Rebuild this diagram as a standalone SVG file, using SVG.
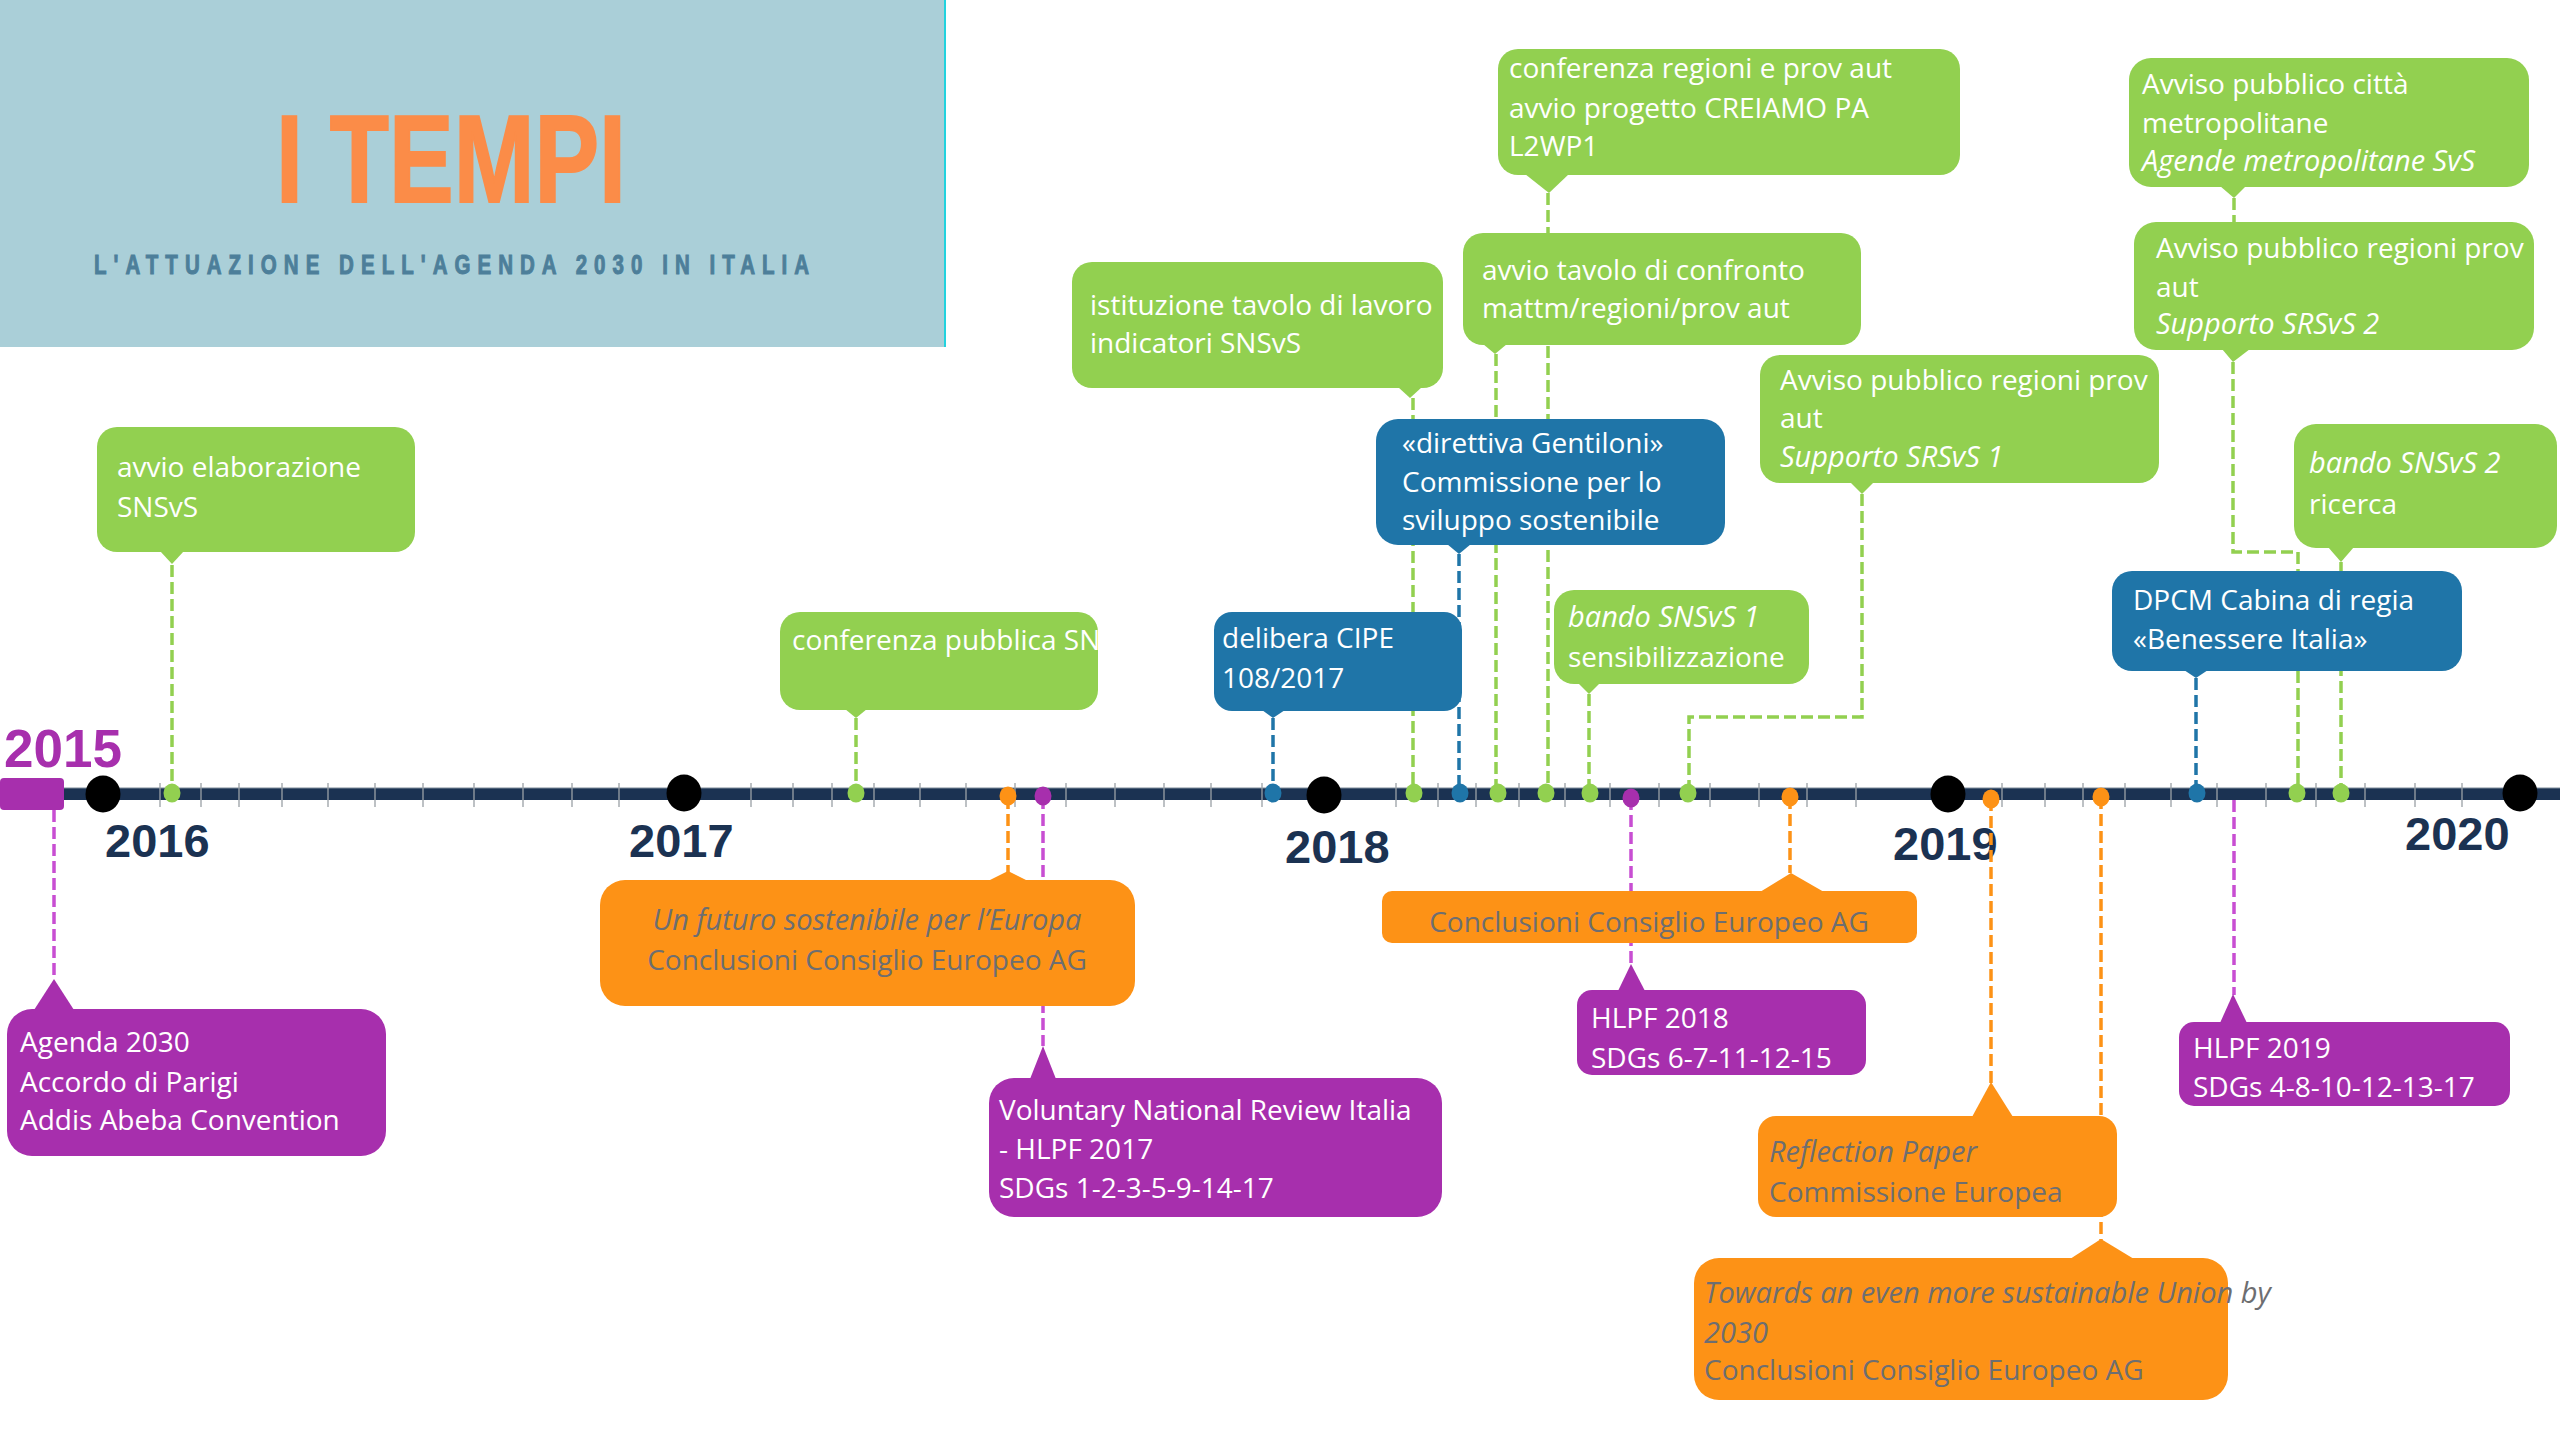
<svg xmlns="http://www.w3.org/2000/svg" width="2560" height="1440" viewBox="0 0 2560 1440">
<defs>
<style>
.t{font-family:"Open Sans","Noto Sans","DejaVu Sans",sans-serif;font-size:28px;fill:#ffffff}
.gr{fill:#6d6e71}
.it{font-style:italic;font-size:29px}
.mid{text-anchor:middle}
.yr{font-family:"Liberation Sans",Arial,sans-serif;font-weight:bold;font-size:47px;fill:#1b3252}
.c{fill:none;stroke-width:3.5;stroke-dasharray:12 5}
.cg{stroke:#92d050}.cb{stroke:#1f75a8}.co{stroke:#fd9216}.cp{stroke:#c84ed2}
.fg{fill:#92d050}.fb{fill:#1f75a8}.fo{fill:#fd9216}.fp{fill:#a72fad}
.tk{stroke:#9aa0a6;stroke-width:1.3}
.yd{fill:#000000}
</style>
<clipPath id="clipB"><rect x="780" y="612" width="318" height="98" rx="20"/></clipPath>
</defs>
<rect width="2560" height="1440" fill="#ffffff"/>

<g id="title">
<rect x="0" y="0" width="945" height="347" fill="#aacfd8"/>
<line x1="945" y1="0" x2="945" y2="347" stroke="#22d2de" stroke-width="2"/>
<text x="276" y="202" font-family="'Liberation Sans',Arial,sans-serif" font-weight="bold" font-size="124" fill="#fb8c48" stroke="#fb8c48" stroke-width="2" textLength="350" lengthAdjust="spacingAndGlyphs">I TEMPI</text>
<text transform="translate(94,274) scale(0.76,1)" font-family="'Liberation Sans',Arial,sans-serif" font-weight="bold" font-size="27" fill="#4d7f9a" stroke="#4d7f9a" stroke-width="1" textLength="941" lengthAdjust="spacing">L'ATTUAZIONE DELL'AGENDA 2030 IN ITALIA</text>
</g>

<g id="axis">
<rect x="40" y="788" width="2520" height="12" fill="#1b3252"/>
<line x1="64" y1="788" x2="2560" y2="788" stroke="#7f8c99" stroke-width="1.2"/>
<g class="tk">
<path d="M160 783V807M201 783V807M239 783V807M282 783V807M328 783V807M375 783V807M423 783V807M474 783V807M523 783V807M572 783V807M619 783V807M751 783V807M793 783V807M832 783V807M874 783V807M920 783V807M966 783V807M1015 783V807M1066 783V807M1115 783V807M1164 783V807M1211 783V807M1262 783V807M1396 783V807M1438 783V807M1476 783V807M1519 783V807M1565 783V807M1610 783V807M1659 783V807M1710 783V807M1759 783V807M1807 783V807M1856 783V807M2002 783V807M2045 783V807M2083 783V807M2125 783V807M2171 783V807M2217 783V807M2266 783V807M2316 783V807M2365 783V807M2415 783V807M2462 783V807"/>
</g>
<rect x="0" y="778" width="64" height="32" rx="4" class="fp"/>
<ellipse cx="103" cy="794" rx="17.5" ry="18.5" class="yd"/>
<ellipse cx="684" cy="793" rx="17.5" ry="18.5" class="yd"/>
<ellipse cx="1324" cy="795" rx="17.5" ry="18.5" class="yd"/>
<ellipse cx="1948" cy="794" rx="17.5" ry="18.5" class="yd"/>
<ellipse cx="2520" cy="793" rx="17.5" ry="18.5" class="yd"/>
<text x="4" y="767" font-family="'Liberation Sans',Arial,sans-serif" font-weight="bold" font-size="53" fill="#a72fad">2015</text>
<text x="105" y="857" class="yr">2016</text>
<text x="629" y="857" class="yr">2017</text>
<text x="1285" y="863" class="yr">2018</text>
<text x="1893" y="860" class="yr">2019</text>
<text x="2405" y="850" class="yr">2020</text>
</g>

<g id="connectors">
<path class="c cg" d="M172 565V793"/>
<path class="c cg" d="M856 718V793"/>
<path class="c cg" d="M1413 398V793"/>
<path class="c cg" d="M1548 193V793"/>
<path class="c cg" d="M1496 354V793"/>
<path class="c cg" d="M1589 694V793"/>
<path class="c cg" d="M1862 494V717H1689V793"/>
<path class="c cg" d="M2234 198V222"/>
<path class="c cg" d="M2233 362V552H2298V793"/>
<path class="c cg" d="M2341 562V793"/>
<path class="c cb" d="M1273 718V793"/>
<path class="c cb" d="M1459 554V793"/>
<path class="c cb" d="M2196 678V793"/>
<path class="c co" d="M1008 797V872"/>
<path class="c co" d="M1790 797V873"/>
<path class="c co" d="M1991 799V1083"/>
<path class="c co" d="M2101 797V1240"/>
<path class="c cp" d="M54 810V980"/>
<path class="c cp" d="M1043 797V1046"/>
<path class="c cp" d="M1631 798V965"/>
<path class="c cp" d="M2234 800V995"/>
</g>

<g id="dots">
<ellipse cx="172" cy="793" rx="8.5" ry="9.5" class="fg"/>
<ellipse cx="856" cy="793" rx="8.5" ry="9.5" class="fg"/>
<ellipse cx="1414" cy="793" rx="8.5" ry="9.5" class="fg"/>
<ellipse cx="1498" cy="793" rx="8.5" ry="9.5" class="fg"/>
<ellipse cx="1546" cy="793" rx="8.5" ry="9.5" class="fg"/>
<ellipse cx="1590" cy="793" rx="8.5" ry="9.5" class="fg"/>
<ellipse cx="1688" cy="793" rx="8.5" ry="9.5" class="fg"/>
<ellipse cx="2297" cy="793" rx="8.5" ry="9.5" class="fg"/>
<ellipse cx="2341" cy="793" rx="8.5" ry="9.5" class="fg"/>
<ellipse cx="1273" cy="793" rx="8.5" ry="9.5" class="fb"/>
<ellipse cx="1460" cy="793" rx="8.5" ry="9.5" class="fb"/>
<ellipse cx="2197" cy="793" rx="8.5" ry="9.5" class="fb"/>
<ellipse cx="1008" cy="796" rx="8.5" ry="9.5" class="fo"/>
<ellipse cx="1790" cy="797" rx="8.5" ry="9.5" class="fo"/>
<ellipse cx="1991" cy="799" rx="8.5" ry="9.5" class="fo"/>
<ellipse cx="2101" cy="797" rx="8.5" ry="9.5" class="fo"/>
<ellipse cx="1043" cy="796" rx="8.5" ry="9.5" class="fp"/>
<ellipse cx="1631" cy="798" rx="8.5" ry="9.5" class="fp"/>
</g>

<g id="n-avvio-elaborazione">
<rect x="97" y="427" width="318" height="125" rx="20" class="fg"/>
<polygon points="160,551 184,551 172,564" class="fg"/>
<text class="t" x="117" y="477">avvio elaborazione</text>
<text class="t" x="117" y="517">SNSvS</text>
</g>

<g id="n-conferenza-pubblica">
<rect x="780" y="612" width="318" height="98" rx="20" class="fg"/>
<polygon points="845,709 867,709 856,718" class="fg"/>
<text class="t" x="792" y="650" clip-path="url(#clipB)">conferenza pubblica SNS</text>
</g>

<g id="n-futuro-sostenibile">
<rect x="600" y="880" width="535" height="126" rx="25" class="fo"/>
<polygon points="988,881 1028,881 1008,871" class="fo"/>
<text class="t gr it mid" x="867" y="930">Un futuro sostenibile per l’Europa</text>
<text class="t gr mid" x="867" y="970">Conclusioni Consiglio Europeo AG</text>
</g>

<g id="n-vnr">
<rect x="989" y="1078" width="453" height="139" rx="25" class="fp"/>
<polygon points="1030,1079 1056,1079 1043,1046" class="fp"/>
<text class="t" x="999" y="1120">Voluntary National Review Italia</text>
<text class="t" x="999" y="1159">- HLPF 2017</text>
<text class="t" x="999" y="1198">SDGs 1-2-3-5-9-14-17</text>
</g>

<g id="n-agenda2030">
<rect x="7" y="1009" width="379" height="147" rx="25" class="fp"/>
<polygon points="34,1010 74,1010 54,979" class="fp"/>
<text class="t" x="20" y="1052">Agenda 2030</text>
<text class="t" x="20" y="1092">Accordo di Parigi</text>
<text class="t" x="20" y="1130">Addis Abeba Convention</text>
</g>

<g id="n-delibera-cipe">
<rect x="1214" y="612" width="248" height="99" rx="18" class="fb"/>
<polygon points="1262,710 1285,710 1273,718" class="fb"/>
<text class="t" x="1222" y="648">delibera CIPE</text>
<text class="t" x="1222" y="688">108/2017</text>
</g>

<g id="n-istituzione-tavolo">
<rect x="1072" y="262" width="371" height="126" rx="20" class="fg"/>
<polygon points="1398,387 1422,387 1410,398" class="fg"/>
<text class="t" x="1090" y="315">istituzione tavolo di lavoro</text>
<text class="t" x="1090" y="353">indicatori SNSvS</text>
</g>

<g id="n-conferenza-regioni">
<rect x="1498" y="49" width="462" height="126" rx="20" class="fg"/>
<polygon points="1525,174 1569,174 1549,193" class="fg"/>
<text class="t" x="1509" y="78">conferenza regioni e prov aut</text>
<text class="t" x="1509" y="118">avvio progetto CREIAMO PA</text>
<text class="t" x="1509" y="156">L2WP1</text>
</g>

<g id="n-tavolo-confronto">
<rect x="1463" y="233" width="398" height="112" rx="20" class="fg"/>
<polygon points="1483,344 1507,344 1495,354" class="fg"/>
<text class="t" x="1482" y="280">avvio tavolo di confronto</text>
<text class="t" x="1482" y="318">mattm/regioni/prov aut</text>
</g>

<g id="n-direttiva-gentiloni">
<rect x="1376" y="419" width="349" height="126" rx="22" class="fb"/>
<polygon points="1447,544 1471,544 1459,554" class="fb"/>
<text class="t" x="1402" y="453">«direttiva Gentiloni»</text>
<text class="t" x="1402" y="492">Commissione per lo</text>
<text class="t" x="1402" y="530">sviluppo sostenibile</text>
</g>

<g id="n-bando-snsvs-1">
<rect x="1554" y="590" width="255" height="94" rx="20" class="fg"/>
<polygon points="1578,683 1600,683 1589,694" class="fg"/>
<text class="t it" x="1568" y="627">bando SNSvS 1</text>
<text class="t" x="1568" y="667">sensibilizzazione</text>
</g>

<g id="n-avviso-srsvs-1">
<rect x="1760" y="355" width="399" height="128" rx="20" class="fg"/>
<polygon points="1850,482 1874,482 1862,494" class="fg"/>
<text class="t" x="1780" y="390">Avviso pubblico regioni prov</text>
<text class="t" x="1780" y="428">aut</text>
<text class="t it" x="1780" y="467">Supporto SRSvS 1</text>
</g>

<g id="n-avviso-citta">
<rect x="2129" y="58" width="400" height="129" rx="22" class="fg"/>
<polygon points="2220,186 2246,186 2234,198" class="fg"/>
<text class="t" x="2142" y="94">Avviso pubblico città</text>
<text class="t" x="2142" y="133">metropolitane</text>
<text class="t it" x="2142" y="171">Agende metropolitane SvS</text>
</g>

<g id="n-avviso-srsvs-2">
<rect x="2134" y="222" width="400" height="128" rx="22" class="fg"/>
<polygon points="2222,349 2250,349 2233,362" class="fg"/>
<text class="t" x="2156" y="258">Avviso pubblico regioni prov</text>
<text class="t" x="2156" y="297">aut</text>
<text class="t it" x="2156" y="334">Supporto SRSvS 2</text>
</g>

<g id="n-bando-snsvs-2">
<rect x="2294" y="424" width="263" height="124" rx="22" class="fg"/>
<polygon points="2328,547 2354,547 2341,562" class="fg"/>
<text class="t it" x="2309" y="473">bando SNSvS 2</text>
<text class="t" x="2309" y="514">ricerca</text>
</g>

<g id="n-dpcm">
<rect x="2112" y="571" width="350" height="100" rx="20" class="fb"/>
<polygon points="2184,670 2208,670 2196,678" class="fb"/>
<text class="t" x="2133" y="610">DPCM Cabina di regia</text>
<text class="t" x="2133" y="649">«Benessere Italia»</text>
</g>

<g id="n-conclusioni-2018">
<rect x="1382" y="891" width="535" height="52" rx="10" class="fo"/>
<polygon points="1760,892 1824,892 1791,873" class="fo"/>
<text class="t gr mid" x="1649" y="932">Conclusioni Consiglio Europeo AG</text>
</g>

<g id="n-hlpf-2018">
<rect x="1577" y="990" width="289" height="85" rx="15" class="fp"/>
<polygon points="1618,991 1645,991 1631,964" class="fp"/>
<text class="t" x="1591" y="1028">HLPF 2018</text>
<text class="t" x="1591" y="1068">SDGs 6-7-11-12-15</text>
</g>

<g id="n-hlpf-2019">
<rect x="2179" y="1022" width="331" height="84" rx="15" class="fp"/>
<polygon points="2220,1023 2247,1023 2233,994" class="fp"/>
<text class="t" x="2193" y="1058">HLPF 2019</text>
<text class="t" x="2193" y="1097">SDGs 4-8-10-12-13-17</text>
</g>

<g id="n-reflection-paper">
<rect x="1758" y="1116" width="359" height="101" rx="18" class="fo"/>
<polygon points="1972,1117 2013,1117 1991,1082" class="fo"/>
<text class="t gr it" x="1769" y="1162">Reflection Paper</text>
<text class="t gr" x="1769" y="1202">Commissione Europea</text>
</g>

<g id="n-towards-2030">
<rect x="1694" y="1258" width="534" height="142" rx="25" class="fo"/>
<polygon points="2070,1259 2134,1259 2101,1239" class="fo"/>
<text class="t gr it" x="1704" y="1303">Towards an even more sustainable Union by</text>
<text class="t gr it" x="1704" y="1343">2030</text>
<text class="t gr" x="1704" y="1380">Conclusioni Consiglio Europeo AG</text>
</g>
</svg>
